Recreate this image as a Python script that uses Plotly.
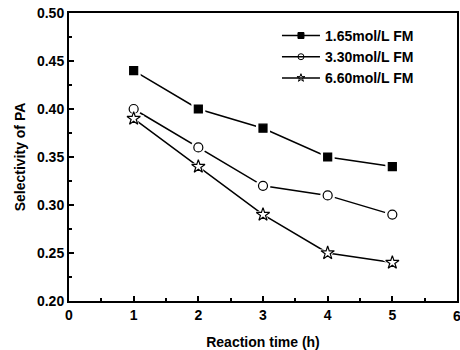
import plotly.graph_objects as go

# Reaction time (h)
hours = [1, 2, 3, 4, 5]

# Selectivity of PA for each FM concentration
sel_165 = [0.44, 0.40, 0.38, 0.35, 0.34]
sel_330 = [0.40, 0.36, 0.32, 0.31, 0.29]
sel_660 = [0.39, 0.34, 0.29, 0.25, 0.24]

series_names = ["1.65mol/L FM", "3.30mol/L FM", "6.60mol/L FM"]
series_values = [sel_165, sel_330, sel_660]
symbols = ["square", "circle-open", "star-open"]
sizes = [8, 9, 10]

FONT = "Liberation Sans, Arial, sans-serif"

fig = go.Figure()

for name, vals, sym, sz in zip(series_names, series_values, symbols, sizes):
    # connecting line
    fig.add_trace(go.Scatter(x=hours, y=vals, mode="lines",
                             line=dict(color="black", width=1.5),
                             showlegend=False, hoverinfo="skip"))
    # white halo so the line stops short of each marker
    fig.add_trace(go.Scatter(x=hours, y=vals, mode="markers",
                             marker=dict(symbol=sym.replace("-open", ""), size=sz + 6,
                                         color="white", line=dict(width=0)),
                             showlegend=False, hoverinfo="skip"))
    # markers
    fig.add_trace(go.Scatter(x=hours, y=vals, mode="markers",
                             marker=dict(symbol=sym, size=sz, color="black",
                                         line=dict(color="black", width=1.2)),
                             showlegend=False))
    # legend entry
    fig.add_trace(go.Scatter(x=[None], y=[None], mode="lines+markers",
                             name="<b>" + name + "</b>",
                             line=dict(color="black", width=1.5),
                             marker=dict(symbol=sym, size=6, color="black",
                                         line=dict(color="black", width=1))))

axis_common = dict(
    showline=True, linecolor="black", linewidth=2, mirror=True,
    ticks="inside", ticklen=5, tickwidth=1.5, tickcolor="black",
    showgrid=False, zeroline=False,
    tickfont=dict(family=FONT, size=14, color="black"),
    tickprefix="<b>", ticksuffix="</b>",
)

fig.update_xaxes(
    range=[0, 6], dtick=1, tick0=0,
    minor=dict(ticks="inside", ticklen=3, dtick=0.5, tickcolor="black", tickwidth=1.5),
    title=dict(text="<b>Reaction time (h)</b>", font=dict(family=FONT, size=14, color="black"),
               standoff=15),
    **axis_common,
)
fig.update_yaxes(
    range=[0.20, 0.50], dtick=0.05, tick0=0.2, tickformat=".2f",
    minor=dict(ticks="inside", ticklen=3, dtick=0.025, tickcolor="black", tickwidth=1.5),
    title=dict(text="<b>Selectivity of PA</b>", font=dict(family=FONT, size=14, color="black"),
               standoff=8),
    **axis_common,
)

# the last x tick label sits on the right edge of the page and is partly cut off
fig.add_annotation(x=6, y=0, xref="x", yref="paper", yanchor="top", yshift=-5,
                   text="<b>6</b>", showarrow=False,
                   font=dict(family=FONT, size=14, color="black"))

fig.update_layout(
    width=460, height=350,
    margin=dict(l=69, r=1, t=13, b=49),
    paper_bgcolor="white", plot_bgcolor="white",
    legend=dict(x=0.536, y=0.976, xanchor="left", yanchor="top",
                bgcolor="rgba(0,0,0,0)", borderwidth=0,
                font=dict(family=FONT, size=14, color="black"),
                tracegroupgap=0, itemwidth=38),
)

fig.write_html("out.html")
